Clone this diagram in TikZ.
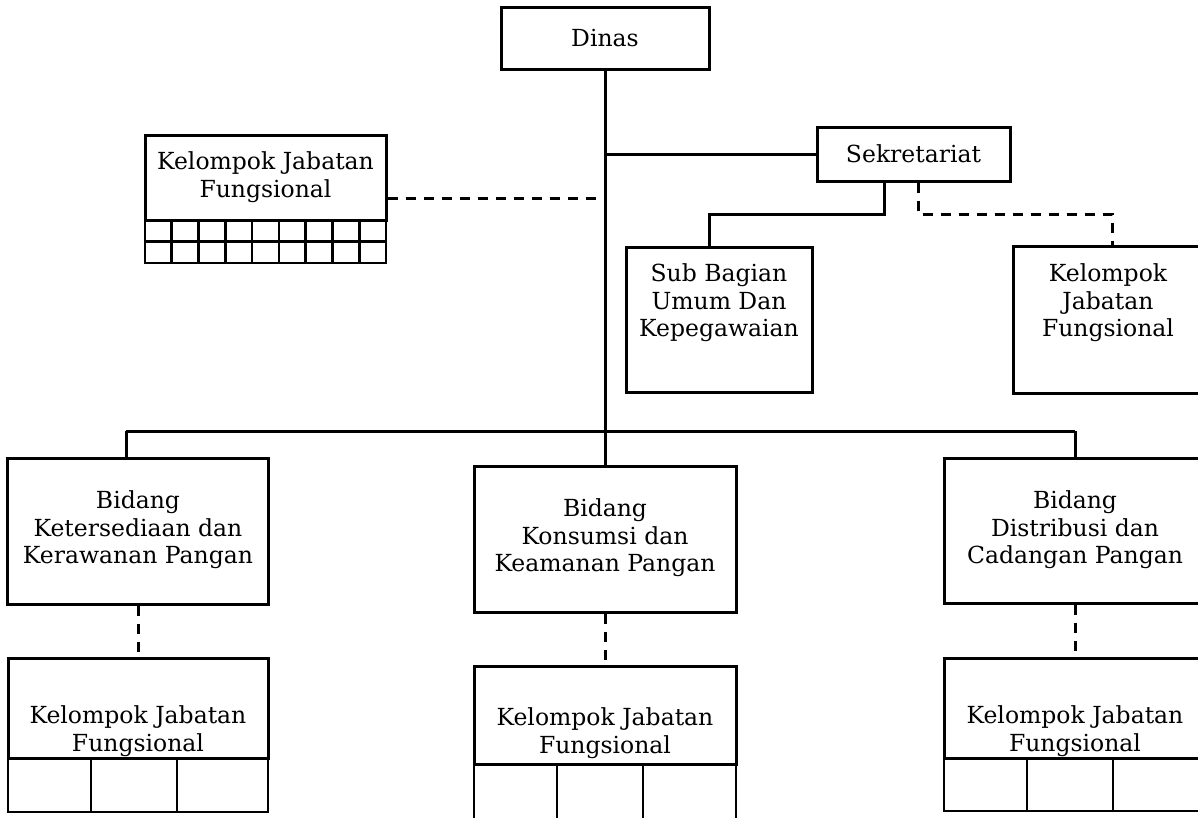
\documentclass[tikz,border=0pt]{standalone}
\usepackage{fontspec}
\setmainfont{DejaVu Serif}
\usetikzlibrary{calc}
\begin{document}
\begin{tikzpicture}[x=1pt,y=-1pt,
  box/.style={draw, line width=3pt, inner sep=0pt},
  cell/.style={draw, line width=2.6pt, inner sep=0pt},
  lbl/.style={align=center, inner sep=0pt, font=\fontsize{23.5}{27.5}\selectfont},
  conn/.style={line width=3pt},
  dconn/.style={line width=3pt, dash pattern=on 10pt off 8pt}]
\useasboundingbox (0,0) rectangle (1198,817);
\clip (0,0) rectangle (1198,817);

% top
\node[box, minimum width=208pt, minimum height=62pt] (dinas) at (605,38) {};
\node[lbl] (tdinas) at (605,38) {Dinas};
\node[box, minimum width=193pt, minimum height=54pt] (sek) at (913.5,154) {};
\node[lbl] (tsek) at (913.5,154) {Sekretariat};

% left functional group with grid
\node[box, minimum width=241pt, minimum height=85pt] (kjfA) at (265.5,177.5) {};
\node[lbl] (tkjfA) at (265.5,177) {Kelompok Jabatan\\Fungsional};
\foreach \i in {0,...,8}{
  \foreach \j in {0,1}{
    \node[cell, minimum width=26.78pt, minimum height=21.5pt] (cA-\i-\j)
      at ({145+26.78*(\i+0.5)},{220+21.5*(\j+0.5)}) {};
  }
}

% secretariat children
\node[box, minimum width=186pt, minimum height=145pt] (sub) at (719,319.5) {};
\node[lbl] (tsub) at (719,303) {Sub Bagian\\Umum Dan\\Kepegawaian};
\node[box, minimum width=190pt, minimum height=147pt] (kjfS) at (1108,319.5) {};
\node[lbl] (tkjfS) at (1108,303) {Kelompok\\Jabatan\\Fungsional};

% bidang
\node[box, minimum width=261pt, minimum height=146pt] (bL) at (138,531) {};
\node[lbl] (tbL) at (138,530) {Bidang\\Ketersediaan dan\\Kerawanan Pangan};
\node[box, minimum width=262pt, minimum height=146pt] (bM) at (605,539) {};
\node[lbl] (tbM) at (605,538) {Bidang\\Konsumsi dan\\Keamanan Pangan};
\node[box, minimum width=262pt, minimum height=145pt] (bR) at (1075,530.5) {};
\node[lbl] (tbR) at (1075,530) {Bidang\\Distribusi dan\\Cadangan Pangan};

% bottom functional groups
\node[box, minimum width=260pt, minimum height=100pt] (kjfL) at (138,708) {};
\node[lbl] (tkjfL) at (138,731) {Kelompok Jabatan\\Fungsional};
\node[cell, minimum width=83pt, minimum height=54pt] (cL1) at (49.5,785) {};
\node[cell, minimum width=86pt, minimum height=54pt] (cL2) at (134,785) {};
\node[cell, minimum width=91pt, minimum height=54pt] (cL3) at (222.5,785) {};

\node[box, minimum width=262pt, minimum height=98pt] (kjfM) at (605,715) {};
\node[lbl] (tkjfM) at (605,733) {Kelompok Jabatan\\Fungsional};
\node[cell, minimum width=83pt, minimum height=66pt] (cM1) at (515.5,797) {};
\node[cell, minimum width=86pt, minimum height=66pt] (cM2) at (600,797) {};
\node[cell, minimum width=93pt, minimum height=66pt] (cM3) at (689.5,797) {};

\node[box, minimum width=262pt, minimum height=100pt] (kjfR) at (1075,708) {};
\node[lbl] (tkjfR) at (1075,731) {Kelompok Jabatan\\Fungsional};
\node[cell, minimum width=83pt, minimum height=53pt] (cR1) at (985.5,784.5) {};
\node[cell, minimum width=86pt, minimum height=53pt] (cR2) at (1070,784.5) {};
\node[cell, minimum width=93pt, minimum height=53pt] (cR3) at (1159.5,784.5) {};

% connectors
\draw[conn] (dinas.south) -- (bM.north);
\draw[conn] (dinas.south |- sek.west) -- (sek.west);
\coordinate (dA) at (599,198);
\draw[dconn] (dA -| kjfA.east) -- (dA);

\coordinate (s1) at (884,214);
\coordinate (s2) at (709,214);
\draw[conn] (s1 |- sek.south) -- (s1) -- (s2) -- (s2 |- sub.north);
\coordinate (d1) at (918,214);
\coordinate (d2) at (1112,214);
\draw[dconn] (d1 |- sek.south) -- (d1) -- (d2) -- (d2 |- kjfS.north);

\coordinate (barL) at (126,431);
\coordinate (barR) at (1075,431);
\draw[conn] (barL) -- (barR);
\draw[conn] (barL) -- (barL |- bL.north);
\draw[conn] (barR) -- (bR.north);

\draw[dconn] (bL.south) -- (kjfL.north);
\draw[dconn] (bM.south) -- (kjfM.north);
\draw[dconn] (bR.south) -- (kjfR.north);
\end{tikzpicture}
\end{document}
